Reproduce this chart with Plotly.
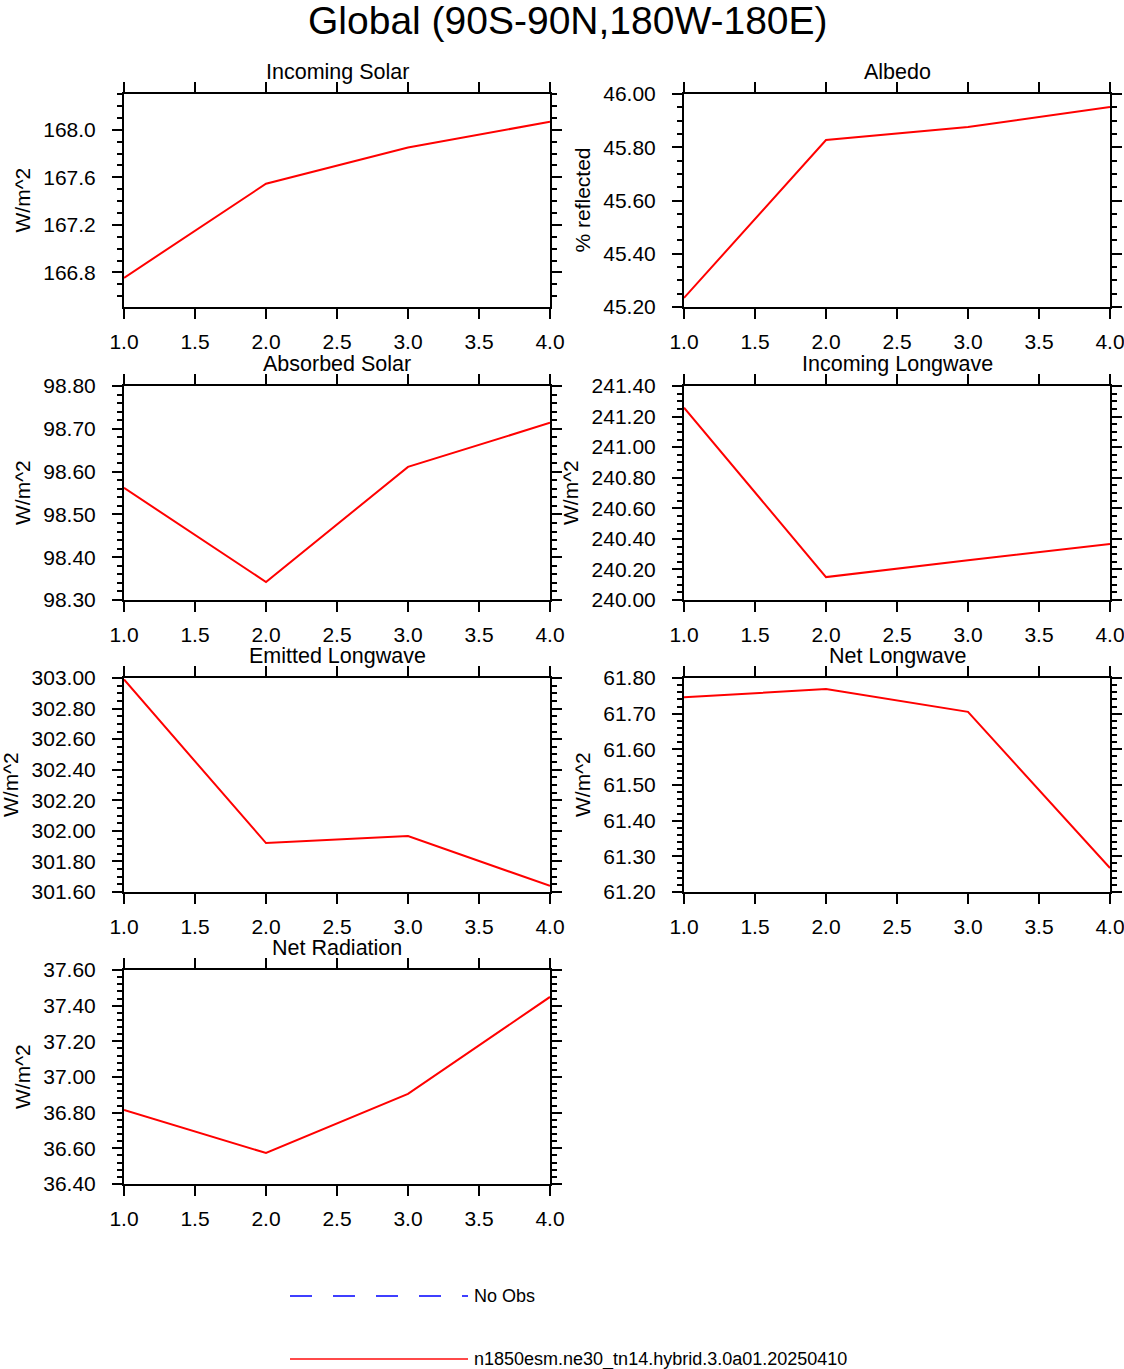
import plotly.graph_objects as go

W, H = 1124, 1369
FONT = "Liberation Sans, Arial, Helvetica, sans-serif"

# years / x positions
x_vals = [1, 2, 3, 4]

# values
incoming_solar = [166.755, 167.546, 167.85, 168.067]
albedo = [45.234, 45.827, 45.876, 45.951]
absorbed_solar = [98.562, 98.342, 98.611, 98.714]
incoming_lw = [241.258, 240.15, 240.26, 240.366]
emitted_lw = [302.99, 301.92, 301.966, 301.64]
net_lw = [61.746, 61.769, 61.705, 61.267]
net_rad = [36.815, 36.574, 36.905, 37.449]

titles = ["Incoming Solar", "Albedo", "Absorbed Solar", "Incoming Longwave",
          "Emitted Longwave", "Net Longwave", "Net Radiation"]
ytitles = ["W/m^2", "% reflected", "W/m^2", "W/m^2", "W/m^2", "W/m^2", "W/m^2"]
series = [incoming_solar, albedo, absorbed_solar, incoming_lw, emitted_lw, net_lw, net_rad]

legend_labels = ["No Obs", "n1850esm.ne30_tn14.hybrid.3.0a01.20250410"]

# axis setup per panel: y range, tick0, major step, minor step, label format
yaxes_cfg = [
    ([166.51, 168.30], 166.8, 0.4, 0.1, ".1f"),
    ([45.2, 46.0], 45.2, 0.2, 0.05, ".2f"),
    ([98.3, 98.8], 98.3, 0.1, 0.02, ".2f"),
    ([240.0, 241.4], 240.0, 0.2, 0.05, ".2f"),
    ([301.6, 303.0], 301.6, 0.2, 0.05, ".2f"),
    ([61.2, 61.8], 61.2, 0.1, 0.02, ".2f"),
    ([36.4, 37.6], 36.4, 0.2, 0.04, ".2f"),
]

# panel boxes in pixels (left, right) and (top, bottom)
cols_px = [(124, 550), (684, 1110)]
rows_px = [(94, 307), (386, 600), (678, 892), (970, 1184)]

fig = go.Figure()
annotations = []

for i, vals in enumerate(series):
    r, c = divmod(i, 2)
    n = "" if i == 0 else str(i + 1)
    xl, xr = cols_px[c]
    yt, yb = rows_px[r]
    rng, t0, dt, mdt, fmt = yaxes_cfg[i]

    fig.add_trace(go.Scatter(x=x_vals, y=vals, mode="lines",
                             line=dict(color="red", width=2),
                             xaxis="x" + n, yaxis="y" + n,
                             showlegend=False, hoverinfo="x+y"))

    axis_common = dict(showline=True, linecolor="black", linewidth=2,
                       mirror="ticks", ticks="outside", ticklen=10,
                       tickwidth=2, tickcolor="black", showgrid=False,
                       zeroline=False, automargin=False,
                       ticklabeloverflow="allow",
                       tickfont=dict(family=FONT, size=21, color="black"))

    fig.layout["xaxis" + n] = dict(
        axis_common, domain=[xl / W, xr / W], anchor="y" + n,
        range=[1, 4], tick0=1, dtick=0.5, tickformat=".1f",
        ticklabelstandoff=5)
    fig.layout["yaxis" + n] = dict(
        axis_common, domain=[1 - yb / H, 1 - yt / H], anchor="x" + n,
        range=rng, tick0=t0, dtick=dt, tickformat=fmt,
        ticklabelstandoff=12,
        minor=dict(ticks="outside", ticklen=5, tickwidth=1.5,
                   tickcolor="black", tick0=t0, dtick=mdt))

    # y title placed left of the tick labels (wider labels push it further out)
    lab_len = len(format(rng[1], fmt))
    annotations.append(dict(text=ytitles[i], x=(xl - 102 - 12 * (lab_len - 5)) / W,
                            y=1 - (yt + yb) / 2 / H, textangle=-90,
                            xref="paper", yref="paper", showarrow=False,
                            xanchor="center", yanchor="middle",
                            font=dict(family=FONT, size=21, color="black")))

    # panel title sits just above the top axis
    annotations.append(dict(text=titles[i], x=(xl + xr) / 2 / W, y=1 - (yt - 22) / H,
                            xref="paper", yref="paper", showarrow=False,
                            xanchor="center", yanchor="middle",
                            font=dict(family=FONT, size=21.5, color="black")))

# main title
annotations.append(dict(text="Global (90S-90N,180W-180E)", x=568 / W, y=1 - 20 / H,
                        xref="paper", yref="paper", showarrow=False,
                        xanchor="center", yanchor="middle",
                        font=dict(family=FONT, size=39, color="black")))

# legend drawn underneath the panels
shapes = []
leg_rows = [(1296, "blue", "22px,21px", 1.5), (1359, "#ff4a4a", "solid", 2)]
for (ypx, col, dash, lw), lab in zip(leg_rows, legend_labels):
    shapes.append(dict(type="line", xref="paper", yref="paper",
                       x0=290 / W, x1=468 / W, y0=1 - ypx / H, y1=1 - ypx / H,
                       line=dict(color=col, width=lw, dash=dash)))
    annotations.append(dict(text=lab, x=472 / W, y=1 - ypx / H,
                            xref="paper", yref="paper", showarrow=False,
                            xanchor="left", yanchor="middle",
                            font=dict(family=FONT, size=18, color="black")))

fig.update_layout(template="none", width=W, height=H,
                  margin=dict(l=0, r=0, t=0, b=0, autoexpand=False),
                  paper_bgcolor="white", plot_bgcolor="white",
                  annotations=annotations, shapes=shapes, showlegend=False)

# drop the default page margin so the figure fills the window exactly
fig.write_html("out.html", config={"displayModeBar": False},
               post_script="document.body.style.margin='0px';document.body.style.overflow='hidden';")
